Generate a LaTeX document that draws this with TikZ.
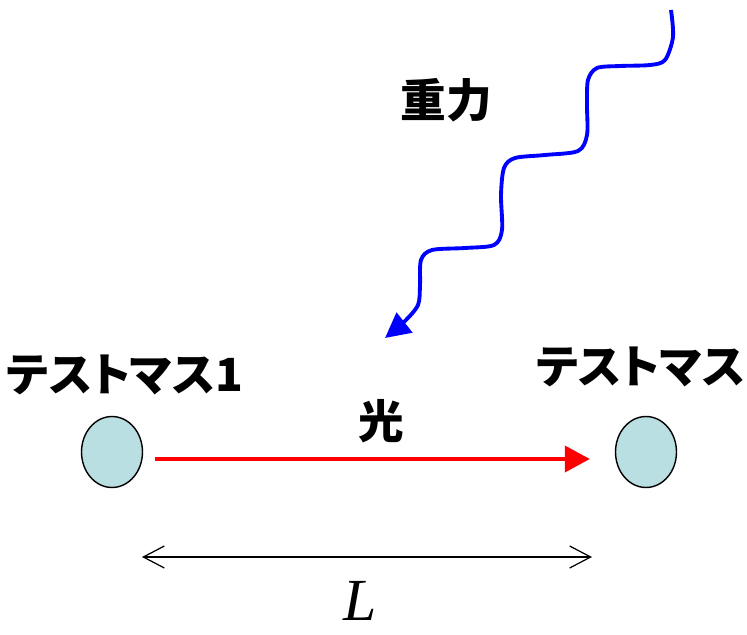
\documentclass[tikz,border=0pt]{standalone}
\usepackage{fontspec}
\newfontfamily\jpfont{Noto Sans CJK JP}[RawFeature=+palt]
\newfontfamily\lfont{Liberation Serif}
\usepackage{xcolor}
\usetikzlibrary{shapes.geometric, arrows.meta, positioning}
\definecolor{massfill}{RGB}{186,223,226}
\definecolor{wavecol}{RGB}{0,0,255}

\begin{document}
\begin{tikzpicture}[
    x=0.02cm, y=-0.02cm,
    mass/.style={draw, ellipse, line width=0.8pt, fill=massfill, minimum width=1.22cm, minimum height=1.42cm, inner sep=0pt},
    jp/.style={inner sep=0pt, font=\jpfont\bfseries\fontsize{26}{30}\selectfont},
    beam/.style={-{Triangle[length=0.5cm, width=0.52cm]}, line width=2.2pt, color=red},
    wave/.style={-{Triangle[length=0.5cm, width=0.5cm]}, line width=2.2pt, color=wavecol},
    dim/.style={{Straight Barb[length=0.42cm, width=0.44cm]}-{Straight Barb[length=0.42cm, width=0.44cm]}, line width=0.7pt}
]
    \useasboundingbox (0,0) rectangle (747,635);

    % Test masses
    \node[mass] (m1) at (112,452) {};
    \node[mass] (m2) at (646,452) {};
    \node[jp] (m1lbl) at (125,375) {テストマス1};
    \node[jp, above=0.56cm of m2, xshift=-0.1cm] (m2lbl) {テストマス};

    % Light beam
    \draw[beam, shorten <=0.24cm, shorten >=0.5cm] ([yshift=-0.14cm]m1.east) -- ([yshift=-0.14cm]m2.west);
    \node[jp] (light) at (381,421) {光};

    % Gravitational wave
    \coordinate (gtop) at (671,10);
    \coordinate (gtip) at (385,338);
    \draw[wave] plot[smooth, tension=0.5] coordinates {(gtop) (673,37) (665,60) (650,65) (620,66) (597,68) (588,80) (587,105) (587,135) (578,151) (545,155) (515,158) (504,168) (501,195) (502,230) (494,245) (465,248) (432,250) (421,260) (420,285) (418,305) (404,322) (gtip)};
    \node[jp] (grav) at (446,100) {重力};

    % Arm length
    \coordinate (dimL) at (142,557);
    \coordinate (dimR) at (592,557);
    \draw[dim] (dimL) -- (dimR);
    \node[inner sep=0pt, font=\lfont\itshape\fontsize{34}{38}\selectfont] (len) at (360,601) {L};
\end{tikzpicture}
\end{document}
